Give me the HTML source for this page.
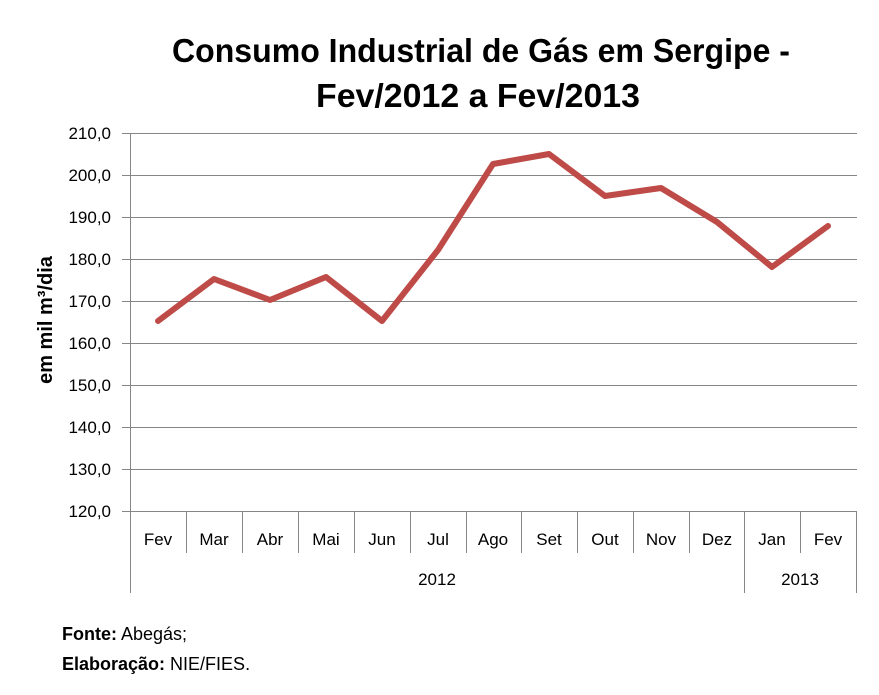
<!DOCTYPE html>
<html><head><meta charset="utf-8"><style>
html,body{margin:0;padding:0;background:#fff;}
svg{display:block;font-family:"Liberation Sans",sans-serif;}
</style></head><body>
<svg width="879" height="695" viewBox="0 0 879 695">
<text x="481" y="62" font-size="33" font-weight="bold" text-anchor="middle" textLength="618" lengthAdjust="spacingAndGlyphs">Consumo Industrial de Gás em Sergipe -</text>
<text x="478" y="107" font-size="33" font-weight="bold" text-anchor="middle" textLength="324" lengthAdjust="spacingAndGlyphs">Fev/2012 a Fev/2013</text>
<g stroke="#868686" stroke-width="1">
<line x1="122" y1="133.5" x2="857" y2="133.5"/>
<line x1="122" y1="175.5" x2="857" y2="175.5"/>
<line x1="122" y1="217.5" x2="857" y2="217.5"/>
<line x1="122" y1="259.5" x2="857" y2="259.5"/>
<line x1="122" y1="301.5" x2="857" y2="301.5"/>
<line x1="122" y1="343.5" x2="857" y2="343.5"/>
<line x1="122" y1="385.5" x2="857" y2="385.5"/>
<line x1="122" y1="427.5" x2="857" y2="427.5"/>
<line x1="122" y1="469.5" x2="857" y2="469.5"/>
<line x1="122" y1="511.5" x2="857" y2="511.5"/>
<line x1="130.5" y1="133" x2="130.5" y2="593"/>
<line x1="744.5" y1="511" x2="744.5" y2="593"/>
<line x1="856.5" y1="511" x2="856.5" y2="593"/>
<line x1="186.5" y1="511" x2="186.5" y2="553"/>
<line x1="242.5" y1="511" x2="242.5" y2="553"/>
<line x1="298.5" y1="511" x2="298.5" y2="553"/>
<line x1="354.5" y1="511" x2="354.5" y2="553"/>
<line x1="410.5" y1="511" x2="410.5" y2="553"/>
<line x1="466.5" y1="511" x2="466.5" y2="553"/>
<line x1="521.5" y1="511" x2="521.5" y2="553"/>
<line x1="577.5" y1="511" x2="577.5" y2="553"/>
<line x1="633.5" y1="511" x2="633.5" y2="553"/>
<line x1="689.5" y1="511" x2="689.5" y2="553"/>
<line x1="800.5" y1="511" x2="800.5" y2="553"/>
</g>
<g font-size="17" text-anchor="end" fill="#000">
<text x="111" y="139">210,0</text>
<text x="111" y="181">200,0</text>
<text x="111" y="223">190,0</text>
<text x="111" y="265">180,0</text>
<text x="111" y="307">170,0</text>
<text x="111" y="349">160,0</text>
<text x="111" y="391">150,0</text>
<text x="111" y="433">140,0</text>
<text x="111" y="475">130,0</text>
<text x="111" y="517">120,0</text>
</g>
<g font-size="17" text-anchor="middle" fill="#000">
<text x="158" y="545">Fev</text>
<text x="214" y="545">Mar</text>
<text x="270" y="545">Abr</text>
<text x="326" y="545">Mai</text>
<text x="382" y="545">Jun</text>
<text x="438" y="545">Jul</text>
<text x="493" y="545">Ago</text>
<text x="549" y="545">Set</text>
<text x="605" y="545">Out</text>
<text x="661" y="545">Nov</text>
<text x="717" y="545">Dez</text>
<text x="772" y="545">Jan</text>
<text x="828" y="545">Fev</text>
<text x="437" y="585">2012</text>
<text x="800" y="585">2013</text>
</g>
<text transform="translate(52,320) rotate(-90)" font-size="20" font-weight="bold" text-anchor="middle">em mil m³/dia</text>
<polyline fill="none" stroke="#be4b48" stroke-width="6" stroke-linejoin="round" stroke-linecap="round"
points="158,321 214,279 270,300 326,277 382,321 438,250 493,164 549,154 605,196 661,188 717,222 772,267 828,226"/>
<text x="62" y="640" font-size="18"><tspan font-weight="bold">Fonte:</tspan> Abegás;</text>
<text x="62" y="670" font-size="18"><tspan font-weight="bold">Elaboração:</tspan>  NIE/FIES.</text>
</svg>
</body></html>
